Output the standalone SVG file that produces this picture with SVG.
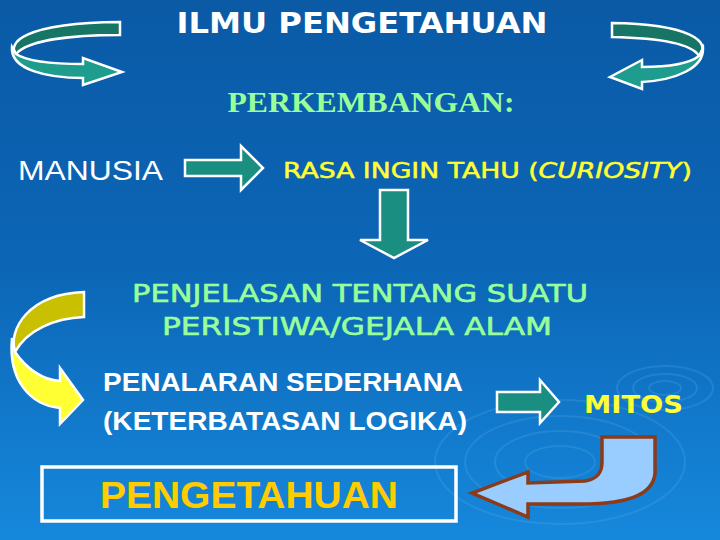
<svg xmlns="http://www.w3.org/2000/svg" width="720" height="540" viewBox="0 0 720 540">
<defs>
<linearGradient id="bg" x1="0" y1="0" x2="0" y2="1">
<stop offset="0" stop-color="#0a5aa6"/>
<stop offset="0.5" stop-color="#0c66b6"/>
<stop offset="1" stop-color="#1688dc"/>
</linearGradient>
<style>
.teal{fill:#1b8e82;stroke:#fff;stroke-width:2.5;stroke-linejoin:miter}
.tealdark{fill:#177566;stroke:#fff;stroke-width:2.5}
.tealfront{fill:#1e9c8e;stroke:#fff;stroke-width:2.5}
.ripple{fill:none;stroke:#6ab8f0;stroke-opacity:0.2;stroke-width:2}
.sans{font-family:"Liberation Sans",Arial,sans-serif}
.comic{font-family:"DejaVu Sans",sans-serif}
</style>
</defs>
<rect width="720" height="540" fill="url(#bg)"/>
<g id="ripples">
<ellipse class="ripple" cx="560" cy="462" rx="125" ry="62"/>
<ellipse class="ripple" cx="560" cy="462" rx="95" ry="46"/>
<ellipse class="ripple" cx="560" cy="462" rx="65" ry="31"/>
<ellipse class="ripple" cx="560" cy="462" rx="35" ry="16"/>
<ellipse class="ripple" cx="665" cy="388" rx="48" ry="22"/>
<ellipse class="ripple" cx="665" cy="388" rx="32" ry="14"/>
<ellipse class="ripple" cx="665" cy="388" rx="16" ry="7"/>
</g>
<g id="title">
<text x="362" y="33" text-anchor="middle" font-family="'DejaVu Sans',Verdana,sans-serif" font-weight="bold" font-size="28" fill="#fff" textLength="371" lengthAdjust="spacingAndGlyphs">ILMU PENGETAHUAN</text>
</g>
<g id="cycle-left">
<path class="tealdark" d="M120,22 L120,35 C72,35 28,40 16,54 C8,44 20,23 120,22 Z"/>
<path class="tealfront" d="M16,54 C28,62 58,64 83,64 L83,58 L122,72 L83,85 L83,78 C48,78 10,70 12,47 Z"/>
</g>
<g id="cycle-right">
<path class="tealdark" d="M612,23 L612,37 C660,38 692,44 699,56 C712,42 690,24 612,23 Z"/>
<path class="tealfront" d="M699,56 C690,63 670,67 642,67 L642,60 L610,77 L642,89 L642,82 C676,80 704,68 703,48 Z"/>
</g>
<g id="perkembangan">
<text x="371" y="112" text-anchor="middle" font-family="'Liberation Serif','Times New Roman',serif" font-weight="bold" font-size="29" fill="#99ff99" textLength="287" lengthAdjust="spacingAndGlyphs">PERKEMBANGAN:</text>
</g>
<g id="manusia">
<text x="18" y="180" class="sans" font-size="28" fill="#fff" textLength="145" lengthAdjust="spacingAndGlyphs">MANUSIA</text>
</g>
<g id="rasa">
<text x="283" y="178" class="comic" font-size="21" fill="#ffff33" stroke="#ffff33" stroke-width="0.5" textLength="409" lengthAdjust="spacingAndGlyphs">RASA INGIN TAHU (<tspan font-style="italic">CURIOSITY</tspan>)</text>
</g>
<g id="penjelasan">
<text x="360" y="302" text-anchor="middle" class="comic" font-size="25" fill="#99ff99" stroke="#99ff99" stroke-width="0.6" textLength="456" lengthAdjust="spacingAndGlyphs">PENJELASAN TENTANG SUATU</text>
<text x="357" y="335" text-anchor="middle" class="comic" font-size="25" fill="#99ff99" stroke="#99ff99" stroke-width="0.6" textLength="390" lengthAdjust="spacingAndGlyphs">PERISTIWA/GEJALA ALAM</text>
</g>
<g id="penalaran">
<text x="103" y="391" class="sans" font-weight="bold" font-size="25" fill="#fff" textLength="360" lengthAdjust="spacingAndGlyphs">PENALARAN SEDERHANA</text>
<text x="103" y="430" class="sans" font-weight="bold" font-size="25" fill="#fff" textLength="364" lengthAdjust="spacingAndGlyphs">(KETERBATASAN LOGIKA)</text>
</g>
<g id="mitos">
<text x="584" y="413" class="comic" font-weight="bold" font-size="25" fill="#ffff33" textLength="99" lengthAdjust="spacingAndGlyphs">MITOS</text>
</g>
<g id="pengetahuan">
<rect x="42" y="467" width="414" height="54" fill="none" stroke="#fff" stroke-width="3.5"/>
<text x="100" y="508" class="sans" font-weight="bold" font-size="36" fill="#ffcc00" textLength="298" lengthAdjust="spacingAndGlyphs">PENGETAHUAN</text>
</g>
<g id="connectors">
<path class="teal" d="M185,160 L241,160 L241,146 L263,168 L241,190 L241,176 L185,176 Z"/>
<path class="teal" d="M380,190 L408,190 L408,240 L428,240 L394,258 L360,240 L380,240 Z"/>
<path class="teal" d="M497,392 L540,392 L540,380 L559,402 L540,423 L540,412 L497,412 Z"/>
<g id="yellow-curve">
<path d="M84,292 L84,317 C55,318 27,330 15,352 C8,330 28,294 84,292 Z" fill="#c8c000" stroke="#fff" stroke-width="2.5"/>
<path d="M15,352 C26,368 42,380 60,381 L60,368 L83,400 L60,424 L60,408 C30,405 8,380 12,338 Z" fill="#ffff33" stroke="#fff" stroke-width="2.5"/>
</g>
<path d="M602,437 L655,437 L655,474 C652,498 620,503 590,504 L528,504 L528,517 L472,493 L528,472 L528,483 L585,481 C598,479 602,472 602,462 Z" fill="#99ccff" stroke="#8b3a1a" stroke-width="3.5" stroke-linejoin="miter"/>
</g>
</svg>
